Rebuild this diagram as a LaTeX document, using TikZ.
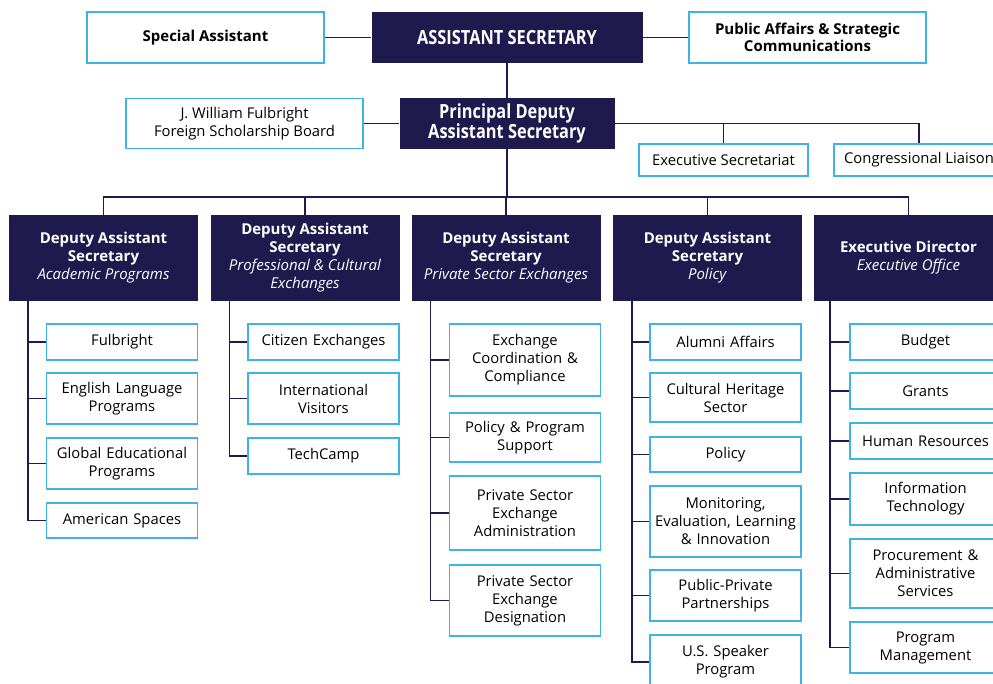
\documentclass[tikz,border=0pt]{standalone}
\usepackage{fontspec}
\setmainfont{Open Sans}
\newfontfamily\condfont[FakeStretch=0.84]{Open Sans}
\usetikzlibrary{positioning}
\definecolor{navy}{HTML}{1F1A4E}
\definecolor{skyline}{HTML}{3CB4E5}
\tikzset{
  link/.style={draw=navy, line width=1.6pt},
  boss/.style={fill=navy, text=white, font=\condfont\bfseries\fontsize{19.5}{20}\selectfont, align=center, inner sep=0pt},
  staff/.style={draw=skyline, line width=1.6pt, fill=white, font=\bfseries\fontsize{15}{17}\selectfont, align=center, inner sep=0pt},
  office/.style={draw=skyline, line width=1.6pt, fill=white, font=\fontsize{14.8}{18}\selectfont, align=center, inner sep=0pt},
  head/.style={fill=navy, text=white, font=\fontsize{15}{18}\selectfont, align=center, minimum width=189pt, minimum height=86pt, inner sep=0pt},
  unit/.style={office, minimum width=151pt, text width=149pt},
}
\begin{document}
\begin{tikzpicture}[x=1pt,y=-1pt]
\useasboundingbox (0,0) rectangle (993,684);
\clip (0,0) rectangle (993,684);
% front office
\node[boss, minimum width=271pt, minimum height=51pt] (as) at (507,37.5) {ASSISTANT SECRETARY};
\node[staff, minimum width=237pt, minimum height=51pt] (spa) at (205.5,37.5) {Special Assistant};
\node[staff, minimum width=237pt, minimum height=51pt] (pa) at (807.5,37.5) {Public Affairs \& Strategic\\Communications};
\node[boss, minimum width=215pt, minimum height=51pt] (pdas) at (507,123.5) {Principal Deputy\\Assistant Secretary};
\node[office, minimum width=237pt, minimum height=50pt] (fsb) at (244.5,123.5) {J. William Fulbright\\Foreign Scholarship Board};
\node[office, minimum width=169pt, minimum height=32pt] (exs) at (723.5,160) {Executive Secretariat};
\node[office, minimum width=170pt, minimum height=32pt] (cl) at (919,160) {Congressional Liaison};
\coordinate (bus) at (507,197);
% deputies
\node[head] (h1) at (103.5,258) {\textbf{Deputy Assistant}\\\textbf{Secretary}\\\textit{Academic Programs}};
\node[head] (h2) at (305,258) {\textbf{Deputy Assistant}\\\textbf{Secretary}\\\textit{Professional \& Cultural}\\\textit{Exchanges}};
\node[head] (h3) at (506,258) {\textbf{Deputy Assistant}\\\textbf{Secretary}\\\textit{Private Sector Exchanges}};
\node[head] (h4) at (707.5,258) {\textbf{Deputy Assistant}\\\textbf{Secretary}\\\textit{Policy}};
\node[head] (h5) at (908.5,258) {\textbf{Executive Director}\\\textit{Executive Office}};
% offices
\node[unit, minimum height=36pt] (c11) at (122,342) {Fulbright};
\node[unit, minimum height=51pt] (c12) at (122,398.5) {English Language\\Programs};
\node[unit, minimum height=51pt] (c13) at (122,463.5) {Global Educational\\Programs};
\node[unit, minimum height=35pt] (c14) at (122,520.5) {American Spaces};
\node[unit, minimum height=36pt] (c21) at (323.5,342) {Citizen Exchanges};
\node[unit, minimum height=51pt] (c22) at (323.5,398.5) {International\\Visitors};
\node[unit, minimum height=36pt] (c23) at (323.5,456) {TechCamp};
\node[unit, minimum height=72pt] (c31) at (525,360) {Exchange\\Coordination \&\\Compliance};
\node[unit, minimum height=49pt] (c32) at (525,437.5) {Policy \& Program\\Support};
\node[unit, minimum height=74pt] (c33) at (525,513) {Private Sector\\Exchange\\Administration};
\node[unit, minimum height=71pt] (c34) at (525,600.5) {Private Sector\\Exchange\\Designation};
\node[unit, minimum height=36pt] (c41) at (725.5,342) {Alumni Affairs};
\node[unit, minimum height=49pt] (c42) at (725.5,397.5) {Cultural Heritage\\Sector};
\node[unit, minimum height=35pt] (c43) at (725.5,454.5) {Policy};
\node[unit, minimum height=71pt] (c44) at (725.5,521.5) {Monitoring,\\Evaluation, Learning\\\& Innovation};
\node[unit, minimum height=51pt] (c45) at (725.5,595.5) {Public-Private\\Partnerships};
\node[unit, minimum height=54pt] (c46) at (725.5,662) {U.S. Speaker\\Program};
\node[unit, minimum height=36pt] (c51) at (925.5,342) {Budget};
\node[unit, minimum height=36pt] (c52) at (925.5,391) {Grants};
\node[unit, minimum height=36pt] (c53) at (925.5,441) {Human Resources};
\node[unit, minimum height=52pt] (c54) at (925.5,499) {Information\\Technology};
\node[unit, minimum height=69pt] (c55) at (925.5,573.5) {Procurement \&\\Administrative\\Services};
\node[unit, minimum height=51pt] (c56) at (925.5,647.5) {Program\\Management};
% links
\draw[link] (spa.east) -- (as.west) (as.east) -- (pa.west);
\draw[link] (as.south) -- (pdas.north) (fsb.east) -- (pdas.west);
\draw[link] (pdas.east) -| (cl.north) (exs.north) -- (exs.north |- pdas.east);
\draw[link] (pdas.south) -- (bus) (h1.north) |- (bus) -| (h5.north);
\draw[link] (h2.north) -- (h2.north |- bus) (h3.north) -- (h3.north |- bus) (h4.north) -- (h4.north |- bus);
\foreach \c in {c11,c12,c13,c14} {\draw[link] ([xshift=19pt]h1.south west) |- (\c.west);}
\foreach \c in {c21,c22,c23} {\draw[link] ([xshift=19pt]h2.south west) |- (\c.west);}
\foreach \c in {c31,c32,c33,c34} {\draw[link] ([xshift=19pt]h3.south west) |- (\c.west);}
\foreach \c in {c41,c42,c43,c44,c45,c46} {\draw[link] ([xshift=19pt]h4.south west) |- (\c.west);}
\foreach \c in {c51,c52,c53,c54,c55,c56} {\draw[link] ([xshift=16pt]h5.south west) |- (\c.west);}
\end{tikzpicture}
\end{document}
